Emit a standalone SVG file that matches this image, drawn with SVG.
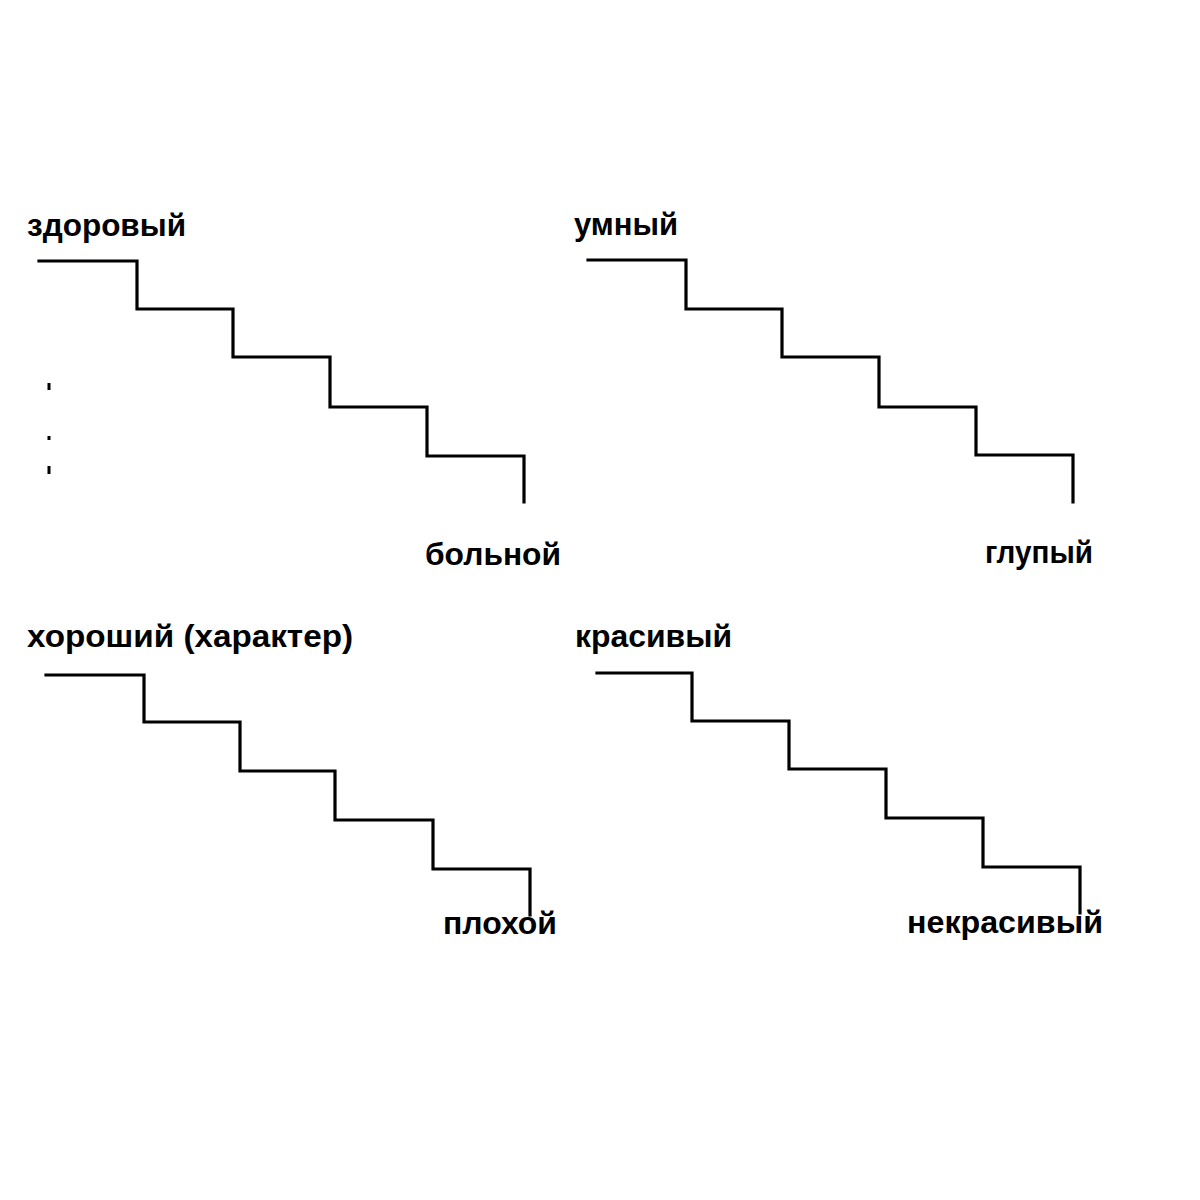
<svg xmlns="http://www.w3.org/2000/svg" width="1200" height="1200" viewBox="0 0 1200 1200">
<style>
.st{fill:none;stroke:#000;stroke-width:3.2;stroke-linejoin:miter;stroke-linecap:square}
.lb{font-family:"Liberation Sans",Arial,sans-serif;font-weight:bold;font-size:32px;fill:#000}
.mk{stroke:#000;stroke-width:3;fill:none}
</style>
<rect width="1200" height="1200" fill="#fff"/>
<g id="connectors">
<polyline id="stairs1" class="st" points="39,261 137,261 137,309 233,309 233,357 330,357 330,407 427,407 427,456 524,456 524,502"/>
<polyline id="stairs2" class="st" points="588,260 686,260 686,309 782,309 782,357 879,357 879,407 976,407 976,455 1073,455 1073,502"/>
<polyline id="stairs3" class="st" points="46,675 144,675 144,722 240,722 240,771 335,771 335,820 433,820 433,869 530,869 530,915"/>
<polyline id="stairs4" class="st" points="597,673 692,673 692,721 789,721 789,769 886,769 886,818 983,818 983,867 1080,867 1080,913"/>
</g>
<g id="marks">
<path class="mk" d="M49,383 v7 M49,436 v4 M49,466 v8"/>
</g>
<g id="n1"><text class="lb" x="27" y="236" textLength="159" lengthAdjust="spacingAndGlyphs">здоровый</text></g>
<g id="n2"><text class="lb" x="425" y="565" textLength="136" lengthAdjust="spacingAndGlyphs">больной</text></g>
<g id="n3"><text class="lb" x="574" y="235" textLength="104" lengthAdjust="spacingAndGlyphs">умный</text></g>
<g id="n4"><text class="lb" x="985" y="563" textLength="108" lengthAdjust="spacingAndGlyphs">глупый</text></g>
<g id="n5"><text class="lb" x="27" y="647" textLength="326" lengthAdjust="spacingAndGlyphs">хороший (характер)</text></g>
<g id="n6"><text class="lb" x="443" y="934" textLength="114" lengthAdjust="spacingAndGlyphs">плохой</text></g>
<g id="n7"><text class="lb" x="575" y="647" textLength="157" lengthAdjust="spacingAndGlyphs">красивый</text></g>
<g id="n8"><text class="lb" x="907" y="933" textLength="196" lengthAdjust="spacingAndGlyphs">некрасивый</text></g>
</svg>
